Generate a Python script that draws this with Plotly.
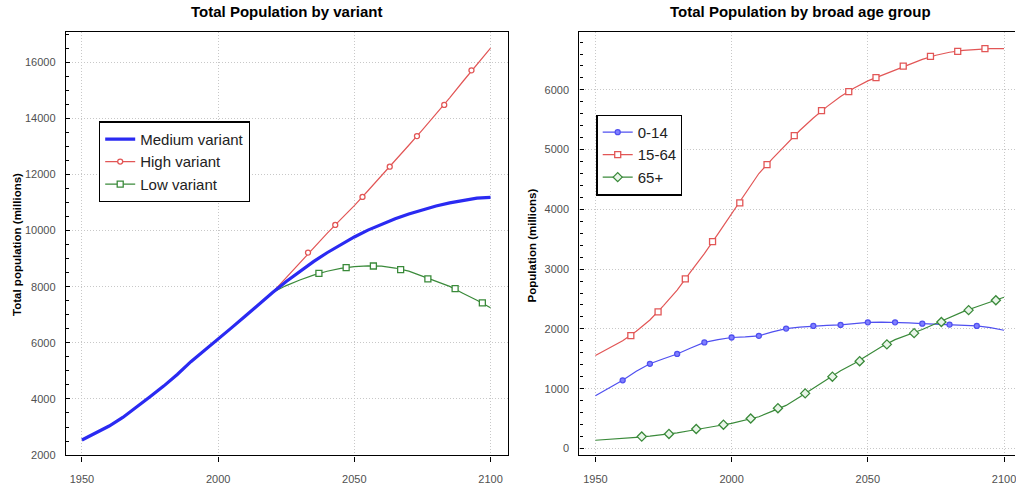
import plotly.graph_objects as go

# ---------------- data (millions) ----------------
YEARS_5 = list(range(1950, 2101, 5))
PROJ_YEARS = list(range(2020, 2101, 5))

medium_variant = [2536, 2773, 3035, 3340, 3700, 4079, 4458, 4871, 5327, 5744,
                  6143, 6542, 6957, 7383, 7795, 8185, 8551, 8893, 9210, 9504,
                  9772, 10015, 10231, 10423, 10594, 10744, 10875, 10987, 11081,
                  11155, 11184]

high_variant = [7795, 8330, 8870, 9400, 9900, 10400, 10890, 11420, 11950, 12490,
                13040, 13590, 14150, 14730, 15330, 15920, 16500]
high_marker_years = [2033, 2043, 2053, 2063, 2073, 2083, 2093]
high_marker_vals = [9216, 10200, 11198, 12276, 13366, 14478, 15709]

low_variant = [7795, 8040, 8240, 8410, 8550, 8650, 8715, 8745, 8730, 8665,
               8555, 8370, 8180, 8010, 7760, 7520, 7250]
low_marker_years = [2037, 2047, 2057, 2067, 2077, 2087, 2097]
low_marker_vals = [8478, 8678, 8738, 8608, 8281, 7930, 7424]

age_0_14 = [881, 1010, 1140, 1290, 1416, 1500, 1581, 1680, 1774, 1820, 1856,
            1866, 1884, 1950, 2005, 2030, 2050, 2058, 2066, 2090, 2110, 2112,
            2110, 2100, 2088, 2080, 2072, 2062, 2050, 2020, 1978]
age_0_14_marker_years = list(range(1960, 2091, 10))
age_0_14_marker_vals = [1140, 1416, 1581, 1774, 1856, 1884, 2005, 2050, 2066,
                        2110, 2110, 2088, 2072, 2050]

age_15_64 = [1554, 1680, 1800, 1960, 2150, 2390, 2650, 2960, 3260, 3590, 3920,
             4260, 4600, 4850, 5090, 5320, 5530, 5720, 5890, 6030, 6150, 6240,
             6340, 6430, 6510, 6580, 6630, 6660, 6680, 6690, 6689]
age_15_64_marker_years = list(range(1963, 2094, 10))
age_15_64_marker_vals = [1889, 2286, 2838, 3460, 4110, 4749, 5234, 5653, 5972,
                         6204, 6397, 6562, 6645, 6689]

age_65_plus = [137, 150, 160, 185, 205, 232, 260, 300, 345, 380, 418, 478, 530,
               625, 720, 860, 1010, 1160, 1300, 1420, 1560, 1700, 1820, 1900,
               1990, 2090, 2190, 2290, 2370, 2450, 2529]
age_65_marker_years = list(range(1967, 2098, 10))
age_65_marker_vals = [198, 242, 325, 397, 501, 673, 921, 1201, 1460, 1741,
                      1929, 2116, 2314, 2479]

X_TICKS = [1950, 2000, 2050, 2100]
LEFT_Y_TICKS = list(range(2000, 16001, 2000))
RIGHT_Y_TICKS = list(range(0, 6001, 1000))

# ---------------- styling ----------------
FONT = "Liberation Sans, Arial, sans-serif"
BLUE_THICK = "#2a2af2"
BLUE = "#5050f0"
RED = "#e25656"
GREEN = "#3a8a3a"
W, H = 1016, 490

fig = go.Figure()


def add_series(x, y, mx, my, color, symbol, msize, xa, ya,
               width=1.2, mfill="white"):
    fig.add_trace(go.Scatter(x=x, y=y, mode="lines", xaxis=xa, yaxis=ya,
                             line=dict(color=color, width=width),
                             showlegend=False, hoverinfo="skip"))
    if mx is not None:
        fig.add_trace(go.Scatter(
            x=mx, y=my, mode="markers", xaxis=xa, yaxis=ya,
            marker=dict(symbol=symbol, size=msize, color=mfill,
                        line=dict(color=color, width=1.3)),
            showlegend=False, hoverinfo="skip"))


# left panel: variants (high / low under the medium curve)
add_series(PROJ_YEARS, high_variant, high_marker_years, high_marker_vals,
           RED, "circle", 5, "x", "y")
add_series(PROJ_YEARS, low_variant, low_marker_years, low_marker_vals,
           GREEN, "square", 6, "x", "y")
add_series(YEARS_5, medium_variant, None, None, BLUE_THICK, None, 0,
           "x", "y", width=3.2)

# right panel: broad age groups
add_series(YEARS_5, age_0_14, age_0_14_marker_years, age_0_14_marker_vals,
           BLUE, "circle", 5, "x2", "y2", mfill="#8080ff")
add_series(YEARS_5, age_15_64, age_15_64_marker_years, age_15_64_marker_vals,
           RED, "square", 6, "x2", "y2")
add_series(YEARS_5, age_65_plus, age_65_marker_years, age_65_marker_vals,
           GREEN, "diamond", 7, "x2", "y2", mfill="#e8f5e8")

# legend entries
legend_items = [
    ("Medium variant", BLUE_THICK, None, 0, 3.2, "legend", "white"),
    ("High variant", RED, "circle", 5, 1.2, "legend", "white"),
    ("Low variant", GREEN, "square", 6, 1.2, "legend", "white"),
    ("0-14", BLUE, "circle", 5, 1.2, "legend2", "#8080ff"),
    ("15-64", RED, "square", 6, 1.2, "legend2", "white"),
    ("65+", GREEN, "diamond", 7, 1.2, "legend2", "#e8f5e8"),
]
for name, color, sym, ms, lw, lg, fill in legend_items:
    fig.add_trace(go.Scatter(
        x=[None], y=[None], name=name, legend=lg,
        mode="lines" if sym is None else "lines+markers",
        line=dict(color=color, width=lw),
        marker=dict(symbol=sym or "circle", size=ms, color=fill,
                    line=dict(color=color, width=1.3)),
        xaxis="x" if lg == "legend" else "x2",
        yaxis="y" if lg == "legend" else "y2"))

tick_font = dict(family=FONT, size=11, color="#505050")
grid = dict(showgrid=True, gridcolor="#c8c8c8", gridwidth=1,
            griddash="1px,2px")

x_common = dict(tickvals=X_TICKS, ticks="outside", ticklen=5, tickwidth=1,
                tickcolor="black", tickfont=tick_font, showline=True,
                linecolor="black", linewidth=1.3, zeroline=False,
                ticklabelstandoff=8, ticklabeloverflow="allow",
                tickformat="d", **grid)
y_common = dict(ticks="inside", ticklen=4, tickwidth=1, tickcolor="black",
                tickfont=tick_font, showline=True, linecolor="black",
                linewidth=1.3, zeroline=False, ticklabelstandoff=7,
                tickformat="d", **grid)

ydom = [1 - 461 / H, 1 - 32 / H]

fig.update_layout(
    width=W, height=H,
    margin=dict(l=0, r=0, t=0, b=0),
    paper_bgcolor="white", plot_bgcolor="white",
    font=dict(family=FONT, color="black"),
    xaxis=dict(domain=[66 / W, 508 / W], range=[1944.13, 2106.23],
               mirror=True, anchor="y", **x_common),
    yaxis=dict(domain=ydom, range=[1990, 17090], tickvals=LEFT_Y_TICKS,
               minor=dict(tickmode="linear", tick0=0, dtick=500,
                          ticks="inside", ticklen=3, tickwidth=1,
                          tickcolor="black", showgrid=False),
               mirror=True, anchor="x", **y_common),
    xaxis2=dict(domain=[580 / W, 1.0], range=[1944.13, 2104.03],
                mirror=True, anchor="y2", **x_common),
    yaxis2=dict(domain=ydom, range=[-116, 6975], tickvals=RIGHT_Y_TICKS,
                minor=dict(tickmode="linear", tick0=0, dtick=200,
                           ticks="inside", ticklen=3, tickwidth=1,
                           tickcolor="black", showgrid=False),
                mirror=False, anchor="x2", **y_common),
    legend=dict(x=99 / W, y=1 - 123 / H, xanchor="left", yanchor="top",
                bgcolor="white", bordercolor="black", borderwidth=1.3,
                font=dict(family=FONT, size=15, color="#222"),
                tracegroupgap=0),
    legend2=dict(x=597 / W, y=1 - 116 / H, xanchor="left", yanchor="top",
                 bgcolor="white", bordercolor="black", borderwidth=1.3,
                 font=dict(family=FONT, size=15, color="#222"),
                 tracegroupgap=0),
    annotations=[
        dict(text="<b>Total Population by variant</b>", x=287 / W, y=1 - 12 / H,
             xref="paper", yref="paper", showarrow=False,
             xanchor="center", yanchor="middle",
             font=dict(family=FONT, size=15, color="black")),
        dict(text="<b>Total Population by broad age group</b>", x=801 / W,
             y=1 - 12 / H, xref="paper", yref="paper", showarrow=False,
             xanchor="center", yanchor="middle",
             font=dict(family=FONT, size=15, color="black")),
        dict(text="<b>Total population (millions)</b>", x=17 / W, y=1 - 247 / H,
             xref="paper", yref="paper", showarrow=False, textangle=-90,
             xanchor="center", yanchor="middle",
             font=dict(family=FONT, size=11.5, color="black")),
        dict(text="<b>Population (millions)</b>", x=532 / W, y=1 - 248 / H,
             xref="paper", yref="paper", showarrow=False, textangle=-90,
             xanchor="center", yanchor="middle",
             font=dict(family=FONT, size=11.5, color="black")),
    ],
)

fig.write_html("out.html")
